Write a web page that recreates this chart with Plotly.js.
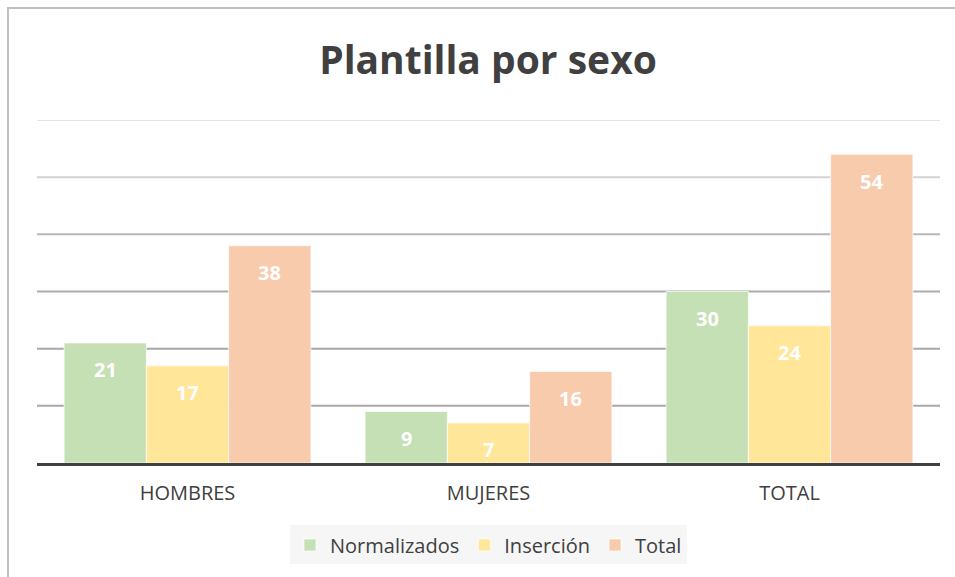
<!DOCTYPE html>
<html>
<head>
<meta charset="utf-8">
<script src="https://cdn.plot.ly/plotly-3.0.1.min.js"></script>
<style>
  html, body { margin: 0; padding: 0; background: #ffffff; overflow: hidden; }
  #frame { position: absolute; left: 7px; top: 7px; width: 960px; height: 600px;
           border-left: 2px solid #c0c0c0; border-top: 2px solid #c0c0c0; }
  #chart { position: absolute; left: 0; top: 0; width: 955px; height: 577px; }
</style>
</head>
<body>
<div id="frame"></div>
<div id="chart"></div>
<script>
const categories = ["HOMBRES", "MUJERES", "TOTAL"];
const seriesNames = ["Normalizados", "Inserción", "Total"];
const normalizados = [21, 9, 30];
const insercion = [17, 7, 24];
const total = [38, 16, 54];
const seriesColors = ["#c5e0b4", "#ffe699", "#f8cbad"];
const gridValues = [10, 20, 30, 40, 50, 60];
const gridColors = ["#a8a8a8", "#a8a8a8", "#acacac", "#b8b8b8", "#d2d2d2", "#e4e4e4"];

const seriesValues = [normalizados, insercion, total];
const bargap = 0.18;

const traces = seriesValues.map((vals, s) => ({
  type: "bar",
  name: seriesNames[s],
  x: categories,
  y: vals,
  marker: { color: seriesColors[s], line: { color: "rgba(255,255,255,0.7)", width: 1 } },
  hoverinfo: "skip"
}));

const annotations = [];
const barW = (1 - bargap) / seriesValues.length;
seriesValues.forEach((vals, s) => {
  vals.forEach((v, i) => {
    annotations.push({
      x: i + (s - (seriesValues.length - 1) / 2) * barW,
      y: v,
      xref: "x", yref: "y",
      text: String(v),
      showarrow: false,
      yanchor: "middle",
      yshift: -27,
      font: { family: "Open Sans", size: 20, color: "#ffffff", weight: "bold" }
    });
  });
});

const shapes = gridValues.map((g, k) => ({
  type: "line", layer: "below",
  xref: "paper", x0: 0, x1: 1,
  yref: "y", y0: g, y1: g,
  line: { color: gridColors[k], width: 2 }
}));

const layout = {
  width: 955, height: 577,
  paper_bgcolor: "rgba(0,0,0,0)",
  plot_bgcolor: "rgba(0,0,0,0)",
  margin: { l: 37, r: 15, t: 120, b: 114, pad: 0 },
  title: {
    text: "<b>Plantilla por sexo</b>",
    x: 0.511, xanchor: "center",
    y: 0.895, yanchor: "middle", yref: "container",
    font: { family: "Open Sans", size: 39, color: "#404040" }
  },
  barmode: "group",
  bargap: bargap,
  bargroupgap: 0,
  xaxis: {
    type: "category",
    showline: true, linecolor: "#404040", linewidth: 3,
    ticks: "", ticklabelstandoff: 10,
    tickfont: { family: "Open Sans", size: 20, color: "#404040" },
    showgrid: false, zeroline: false, fixedrange: true
  },
  yaxis: {
    range: [0, 60], dtick: 10, tick0: 0,
    showticklabels: false, ticks: "",
    showgrid: false,
    zeroline: false, showline: false, fixedrange: true
  },
  shapes: shapes,
  showlegend: true,
  legend: {
    orientation: "h",
    x: 0.5, xanchor: "center",
    y: -0.239, yanchor: "middle",
    bgcolor: "#f6f6f6",
    font: { family: "Open Sans", size: 20, color: "#404040" },
    traceorder: "normal",
    itemwidth: 30
  },
  annotations: annotations
};

Plotly.newPlot("chart", traces, layout, { displayModeBar: false, staticPlot: true });
</script>
</body>
</html>
